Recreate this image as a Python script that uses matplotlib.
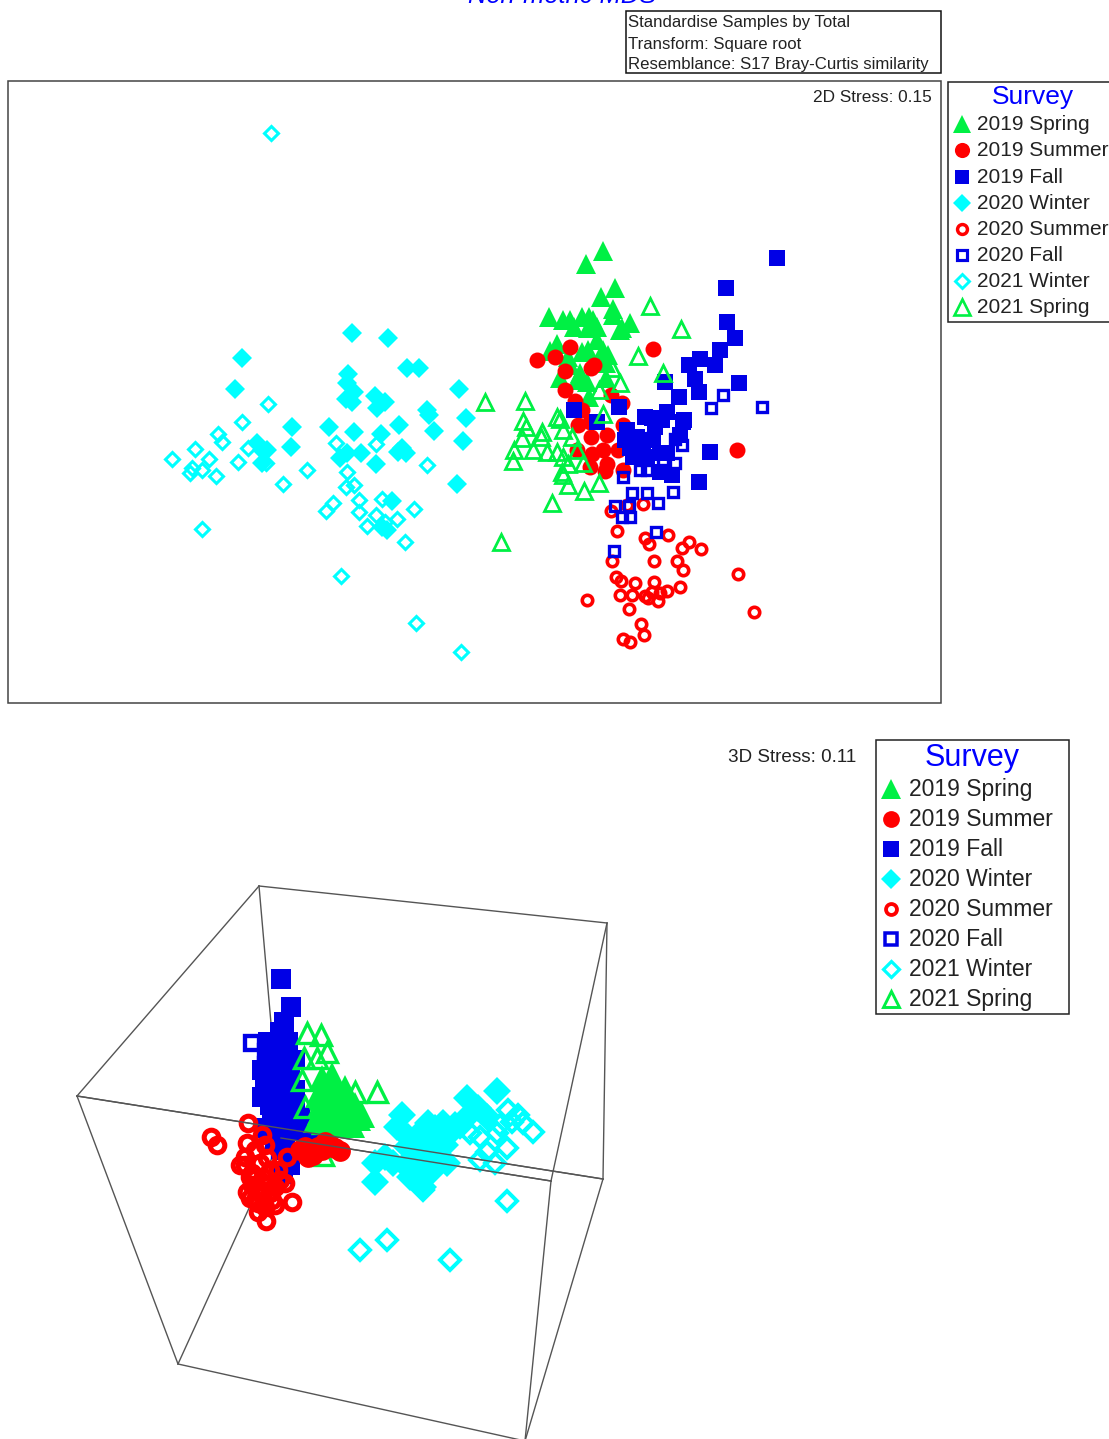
import matplotlib
matplotlib.use("Agg")
import matplotlib.pyplot as plt
from matplotlib.patches import Rectangle

plt.rcParams['font.family'] = ['Liberation Sans', 'DejaVu Sans']

# Значения (пиксели исходного рисунка)
survey_labels = ['2019 Spring', '2019 Summer', '2019 Fall', '2020 Winter',
                 '2020 Summer', '2020 Fall', '2021 Winter', '2021 Spring']
info_lines = ['Standardise Samples by Total', 'Transform: Square root',
              'Resemblance: S17 Bray-Curtis similarity']

# ─── 2D MDS ───
spring19_2d = [(603,251),(586,264),(615,288),(601,297),(613,309),(613,315),(549,317),(563,320),(570,320),
               (582,317),(589,317),(574,327),(593,320),(597,327),(588,328),(630,323),(622,328),(620,330),
               (557,344),(550,351),(597,340),(588,350),(582,352),(603,350),(608,355),(568,357),(570,365),
               (606,363),(560,378),(577,380),(587,382),(606,378),(580,373),(589,397)]
summer19_2d = [(537,360),(555,357),(570,347),(653,349),(565,371),(594,365),(591,368),(565,390),(575,401),
               (611,395),(622,403),(582,410),(578,425),(590,422),(591,437),(607,435),(623,425),(603,450),
               (592,454),(577,450),(618,450),(590,467),(607,464),(605,471),(623,470),(737,450)]
fall19_2d = [(777,258),(726,288),(727,322),(735,338),(720,350),(715,365),(700,359),(689,365),(695,379),
             (699,392),(739,383),(665,382),(679,397),(619,407),(574,410),(597,422),(667,412),(684,420),
             (645,417),(652,418),(662,420),(655,427),(627,430),(637,437),(625,440),(630,448),(643,447),
             (653,440),(660,453),(667,453),(647,457),(633,457),(660,472),(672,475),(710,452),(699,482),
             (683,422),(680,435)]
winter20_2d = [(352,333),(388,338),(242,358),(235,389),(407,368),(419,368),(459,389),(348,374),(347,383),
               (354,392),(346,399),(352,402),(375,396),(385,402),(377,408),(427,410),(429,415),(466,418),
               (292,427),(329,427),(354,432),(399,425),(434,431),(381,434),(463,441),(291,447),(257,443),
               (262,450),(267,450),(347,453),(361,453),(340,458),(402,448),(398,452),(406,453),(376,464),
               (457,484),(392,501),(387,530),(382,527),(262,463)]
summer20_2d = [(611,511),(617,531),(645,538),(649,544),(668,535),(689,542),(682,548),(701,549),(677,561),
               (683,570),(654,561),(612,561),(738,574),(616,577),(621,581),(635,583),(654,582),(632,595),
               (620,595),(652,592),(667,591),(680,587),(645,596),(658,601),(648,598),(587,600),(629,609),
               (754,612),(641,624),(644,635),(623,639),(630,642),(643,504),(627,505),(660,593)]
fall20_2d = [(762,407),(723,395),(711,408),(652,438),(675,439),(682,445),(663,460),(675,463),(623,477),
             (640,470),(647,470),(632,493),(647,493),(673,492),(658,503),(615,506),(629,506),(622,517),
             (630,517),(656,532),(614,551)]
winter21_2d = [(271,133),(268,404),(242,422),(218,434),(222,442),(195,449),(172,459),(209,459),(248,448),
               (238,462),(190,473),(192,468),(202,470),(216,476),(266,463),(307,470),(283,484),(336,443),
               (376,444),(427,465),(347,472),(354,485),(346,487),(333,503),(326,511),(359,500),(359,512),
               (382,499),(414,509),(376,515),(397,519),(367,526),(385,522),(405,542),(202,529),(341,576),
               (416,623),(461,652)]
spring21_2d = [(650,306),(681,329),(638,356),(663,373),(485,402),(525,401),(612,368),(620,383),(599,390),
               (603,414),(557,417),(560,419),(523,421),(526,427),(563,430),(542,432),(541,437),(522,438),
               (572,437),(514,450),(533,450),(547,452),(557,452),(563,457),(513,461),(577,450),(583,463),
               (568,464),(562,472),(563,475),(568,485),(599,483),(584,491),(552,503),(501,542)]

# ─── 3D MDS ───
box_vertices = {'A': (259,886), 'B': (607,923), 'C': (77,1096), 'D': (603,1179),
                'E': (281,1138), 'F': (551,1181), 'G': (178,1364), 'H': (525,1441)}
box_edges = ['AB', 'AC', 'BD', 'CD', 'AE', 'BF', 'CG', 'DH', 'EF', 'EG', 'FH', 'GH']

spring19_3d = [(322,1078),(332,1075),(325,1090),(335,1088),(345,1088),(318,1095),(330,1100),(345,1100),
               (355,1105),(320,1105),(335,1112),(350,1112),(325,1118),(340,1120),(358,1118),(316,1120),
               (330,1125),(347,1125),(320,1112),(340,1105),(352,1125),(362,1115)]
summer19_3d = [(305,1147),(308,1157),(318,1147),(330,1145),(340,1151),(313,1155),(300,1150),(322,1150),
               (325,1142),(335,1148)]
fall19_3d = [(281,979),(291,1007),(284,1022),(268,1042),(288,1042),(280,1032),(270,1058),(285,1058),
             (275,1075),(290,1075),(265,1082),(280,1090),(295,1090),(262,1097),(270,1105),(288,1105),
             (272,1118),(290,1118),(285,1130),(300,1130),(265,1128),(325,1133),(285,1150),(295,1152),
             (283,1173),(275,1140),(310,1130),(290,1165),(270,1092),(262,1070),(295,1105),(295,1060),
             (300,1118),(270,1068)]
winter20_3d = [(402,1115),(467,1098),(497,1091),(375,1163),(375,1182),(428,1123),(443,1123),(420,1133),
               (437,1140),(407,1147),(393,1163),(420,1160),(437,1160),(450,1133),(410,1177),(430,1173),
               (397,1127),(487,1117),(467,1117),(423,1187),(447,1163),(408,1137),(385,1157),(415,1150),
               (430,1150),(445,1145),(405,1165),(420,1175),(435,1128),(455,1125),(478,1108)]
summer20_3d = [(211,1137),(217,1145),(248,1123),(262,1135),(247,1143),(287,1157),(267,1158),(240,1165),
               (245,1157),(252,1173),(280,1180),(247,1192),(257,1187),(263,1177),(275,1187),(255,1200),
               (265,1207),(275,1205),(292,1202),(266,1221),(258,1212),(250,1177),(260,1163),(270,1193),
               (252,1185),(262,1195),(268,1185),(258,1203),(270,1170),(245,1165),(255,1150),(265,1145),
               (250,1198),(263,1192),(255,1178),(272,1200),(278,1170),(285,1183)]
fall20_3d = [(252,1043),(266,1052),(266,1065),(283,1175),(280,1150)]
winter21_3d = [(533,1132),(518,1115),(508,1110),(523,1123),(507,1148),(487,1152),(495,1163),(507,1201),
               (480,1160),(460,1127),(480,1137),(497,1133),(423,1190),(360,1250),(387,1240),(450,1260),
               (415,1180),(512,1122),(500,1125),(470,1133)]
spring21_3d = [(307,1033),(321,1035),(327,1052),(304,1058),(317,1058),(302,1080),(355,1092),(377,1092),
               (305,1107),(323,1155),(323,1123)]

GREEN = '#00f044'
RED = '#ff0000'
BLUE = '#0000e6'
CYAN = '#00ffff'

# маркер, цвет, размер, толщина контура, залит или нет
styles = {
    '2019 Spring': ('^', GREEN, 14, 0, True),
    '2019 Summer': ('o', RED, 11.5, 0, True),
    '2019 Fall': ('s', BLUE, 11, 0, True),
    '2020 Winter': ('D', CYAN, 10, 0, True),
    '2020 Summer': ('o', RED, 7.5, 2.6, False),
    '2020 Fall': ('s', BLUE, 7.8, 2.4, False),
    '2021 Winter': ('D', CYAN, 7.5, 2.2, False),
    '2021 Spring': ('^', GREEN, 11.5, 2.0, False),
}


def draw_points(ax, points, label, scale=1.0, zorder=3):
    marker, color, size, edge, filled = styles[label]
    xs = [p[0] for p in points]
    ys = [p[1] for p in points]
    ax.plot(xs, ys, ls='none', marker=marker, ms=size * scale, mew=edge * scale,
            mec=color, mfc=color if filled else 'none', zorder=zorder)


def draw_legend(ax, box, title_xy, title_size, marker_x, text_x, rows, text_size, scale):
    ax.add_patch(Rectangle((box[0], box[1]), box[2], box[3], fc='white', ec='#222222', lw=1.1, zorder=5))
    ax.text(title_xy[0], title_xy[1], 'Survey', color='#0000ff', fontsize=title_size,
            ha='center', va='center', zorder=6)
    for label, row in zip(survey_labels, rows):
        draw_points(ax, [(marker_x, row)], label, scale=scale, zorder=6)
        ax.text(text_x, row + 0.5, label, color='#222222', fontsize=text_size, va='center', zorder=6)


fig = plt.figure(figsize=(11.09, 14.39), dpi=100)
ax = fig.add_axes([0, 0, 1, 1])
ax.set_xlim(0, 1109)
ax.set_ylim(1439, 0)
ax.axis('off')

# Заголовок обрезан верхним краем, как в исходной картинке
ax.text(562, -4, 'Non-metric MDS', color='#0000ff', fontsize=18.4, style='italic', ha='center', va='center')

# Блок с описанием
ax.add_patch(Rectangle((626, 11), 315, 62, fc='white', ec='#111111', lw=1.1))
for line, row in zip(info_lines, [22, 44, 65]):
    ax.text(628, row, line, color='#222222', fontsize=12.1, va='center')

# Панель 2D
ax.add_patch(Rectangle((8, 81), 933, 622, fc='none', ec='#444444', lw=1.1))
ax.text(932, 97, '2D Stress: 0.15', color='#222222', fontsize=12.4, ha='right', va='center')

draw_points(ax, spring19_2d, '2019 Spring')
draw_points(ax, winter20_2d, '2020 Winter')
draw_points(ax, summer20_2d, '2020 Summer')
draw_points(ax, summer19_2d, '2019 Summer')
draw_points(ax, fall19_2d, '2019 Fall')
draw_points(ax, fall20_2d, '2020 Fall')
draw_points(ax, winter21_2d, '2021 Winter')
draw_points(ax, spring21_2d, '2021 Spring')

draw_legend(ax, (948, 82, 175, 240), (1033, 97), 19, 962, 977,
            [124, 150, 177, 203, 229, 255, 281, 307], 15, 0.95)

# Панель 3D
for edge in box_edges:
    x0, y0 = box_vertices[edge[0]]
    x1, y1 = box_vertices[edge[1]]
    ax.plot([x0, x1], [y0, y1], color='#555555', lw=1.0, zorder=2)

ax.text(856, 758, '3D Stress: 0.11', color='#222222', fontsize=13.6, ha='right', va='center')

draw_points(ax, fall19_3d, '2019 Fall', 1.3)
draw_points(ax, fall20_3d, '2020 Fall', 1.3)
draw_points(ax, spring21_3d, '2021 Spring', 1.2)
draw_points(ax, spring19_3d, '2019 Spring', 1.3)
draw_points(ax, summer19_3d, '2019 Summer', 1.3)
draw_points(ax, winter20_3d, '2020 Winter', 1.4)
draw_points(ax, winter21_3d, '2021 Winter', 1.3)
draw_points(ax, summer20_3d, '2020 Summer', 1.4)

# линии куба поверх точек в этом месте
ax.plot([box_vertices['C'][0], box_vertices['D'][0]], [box_vertices['C'][1], box_vertices['D'][1]],
        color='#555555', lw=1.0, zorder=4)
ax.plot([box_vertices['E'][0], box_vertices['F'][0]], [box_vertices['E'][1], box_vertices['F'][1]],
        color='#555555', lw=1.0, zorder=4)

draw_legend(ax, (876, 740, 193, 274), (972, 758), 22, 891, 909,
            [789, 819, 849, 879, 909, 939, 969, 999], 16.5, 1.05)

plt.savefig('out.png', dpi=100)
